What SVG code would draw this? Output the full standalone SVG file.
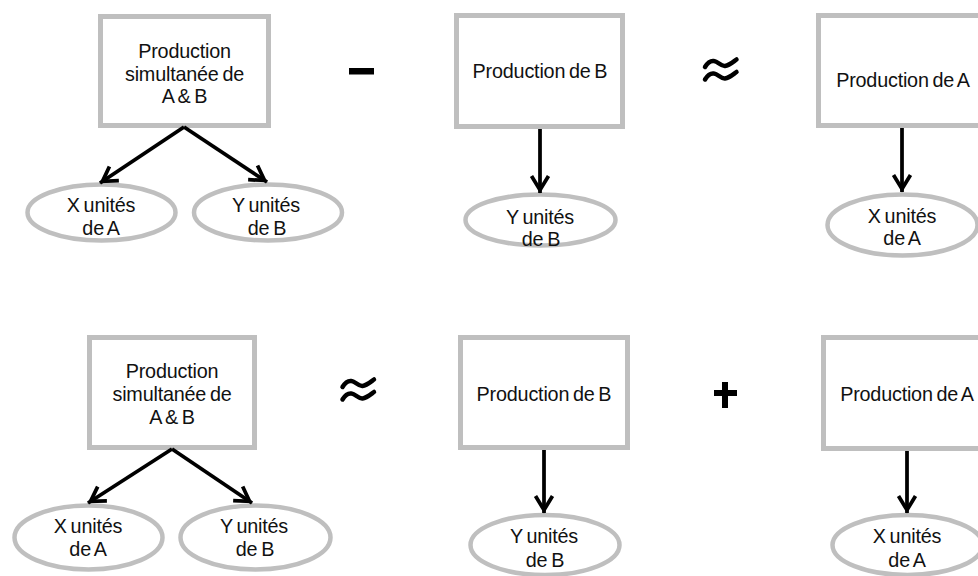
<svg xmlns="http://www.w3.org/2000/svg" width="978" height="576" viewBox="0 0 978 576">
  <style>
    .box { fill: #ffffff; stroke: #bfbfbf; stroke-width: 5; }
    .oval { fill: #ffffff; stroke: #bfbfbf; stroke-width: 4.5; }
    .lbl { font-family: "Liberation Sans", Arial, sans-serif; font-size: 19.8px; fill: #111111; text-anchor: middle; word-spacing: -1.5px; letter-spacing: -0.2px; }
    .link { fill: none; stroke: #000000; stroke-width: 3.75; }
    .op { fill: #000000; }
    .wave { fill: none; stroke: #000000; stroke-width: 4.5; stroke-linecap: round; }
  </style>
  <defs>
    <marker id="head" markerUnits="userSpaceOnUse" orient="auto" markerWidth="1" markerHeight="1" overflow="visible">
      <path d="M-17,-8.5 L-3,0 L-17,8.5" fill="none" stroke="#000000" stroke-width="3.75"/>
    </marker>
    <!-- approximately-equal operator, two tilted waves -->
    <g id="approx">
      <path class="wave" d="M705,67 C708,62 711,60.5 714,61 C718,61.5 721,66.5 725,66 C729,65.5 733,62 736.5,59.5"/>
      <path class="wave" d="M705,79.5 C708,74.5 711,73 714,73.5 C718,74 721,79 725,78.5 C729,78 733,74.5 736.5,72"/>
    </g>
  </defs>

  <!-- Row 1: joint production minus production of B, approx production of A -->
  <g id="joint-top">
    <rect class="box" x="100.5" y="16.5" width="168" height="109"/>
    <text class="lbl" x="184.5" y="58.3">Production</text>
    <text class="lbl" x="184.5" y="80.8">simultanée de</text>
    <text class="lbl" x="184.5" y="103.3">A &amp; B</text>
  </g>
  <g id="xa-top-left">
    <ellipse class="oval" cx="101.5" cy="212.5" rx="74" ry="28"/>
    <text class="lbl" x="101" y="212.3">X unités</text>
    <text class="lbl" x="101" y="234.5">de A</text>
  </g>
  <g id="yb-top-left">
    <ellipse class="oval" cx="268" cy="212.5" rx="74" ry="28"/>
    <text class="lbl" x="266" y="212.3">Y unités</text>
    <text class="lbl" x="267" y="234.5">de B</text>
  </g>
  <g id="prod-b-top">
    <rect class="box" x="456.5" y="15.5" width="166" height="111"/>
    <text class="lbl" x="540" y="78.3">Production de B</text>
  </g>
  <g id="yb-top">
    <ellipse class="oval" cx="540.5" cy="220" rx="75" ry="25.5"/>
    <text class="lbl" x="540" y="224">Y unités</text>
    <text class="lbl" x="541" y="246">de B</text>
  </g>
  <g id="prod-a-top">
    <rect class="box" x="818.5" y="15.5" width="166" height="110"/>
    <text class="lbl" x="903" y="87">Production de A</text>
  </g>
  <g id="xa-top">
    <ellipse class="oval" cx="902.5" cy="225" rx="75" ry="30.5"/>
    <text class="lbl" x="902" y="222.7">X unités</text>
    <text class="lbl" x="902" y="245">de A</text>
  </g>

  <!-- Row 2: joint production approx production of B plus production of A -->
  <g id="joint-bottom">
    <rect class="box" x="89.5" y="337.5" width="165" height="110"/>
    <text class="lbl" x="172" y="377.5">Production</text>
    <text class="lbl" x="172" y="400.5">simultanée de</text>
    <text class="lbl" x="172" y="423.5">A &amp; B</text>
  </g>
  <g id="xa-bottom-left">
    <ellipse class="oval" cx="88.5" cy="537.5" rx="74" ry="32"/>
    <text class="lbl" x="88" y="533.3">X unités</text>
    <text class="lbl" x="88" y="556">de A</text>
  </g>
  <g id="yb-bottom-left">
    <ellipse class="oval" cx="255.5" cy="537.5" rx="75" ry="32"/>
    <text class="lbl" x="254" y="533.3">Y unités</text>
    <text class="lbl" x="255" y="556">de B</text>
  </g>
  <g id="prod-b-bottom">
    <rect class="box" x="460.5" y="337.5" width="167" height="110"/>
    <text class="lbl" x="544" y="401">Production de B</text>
  </g>
  <g id="yb-bottom">
    <ellipse class="oval" cx="545" cy="545" rx="74.5" ry="30"/>
    <text class="lbl" x="544" y="543.3">Y unités</text>
    <text class="lbl" x="545" y="566.7">de B</text>
  </g>
  <g id="prod-a-bottom">
    <rect class="box" x="823.5" y="337.5" width="167" height="111"/>
    <text class="lbl" x="907" y="400.7">Production de A</text>
  </g>
  <g id="xa-bottom">
    <ellipse class="oval" cx="907.5" cy="545" rx="75" ry="30"/>
    <text class="lbl" x="907" y="543.3">X unités</text>
    <text class="lbl" x="907" y="566.7">de A</text>
  </g>

  <!-- Operators between the terms -->
  <g id="operators">
    <rect class="op" x="349" y="68" width="25" height="6.5"/>
    <use href="#approx"/>
    <use href="#approx" transform="translate(-362.5 320)"/>
    <rect class="op" x="714" y="390" width="23" height="6"/>
    <rect class="op" x="722" y="382" width="6" height="26"/>
  </g>

  <!-- Connectors -->
  <g id="connectors">
    <line class="link" x1="184" y1="127" x2="100" y2="183" marker-end="url(#head)"/>
    <line class="link" x1="184" y1="127" x2="267" y2="182" marker-end="url(#head)"/>
    <line class="link" x1="540" y1="129" x2="540" y2="193" marker-end="url(#head)"/>
    <line class="link" x1="902" y1="128" x2="902" y2="192" marker-end="url(#head)"/>
    <line class="link" x1="172" y1="449" x2="88" y2="503" marker-end="url(#head)"/>
    <line class="link" x1="172" y1="449" x2="252" y2="503" marker-end="url(#head)"/>
    <line class="link" x1="544" y1="450" x2="544" y2="513" marker-end="url(#head)"/>
    <line class="link" x1="907" y1="451" x2="907" y2="513" marker-end="url(#head)"/>
  </g>
</svg>
